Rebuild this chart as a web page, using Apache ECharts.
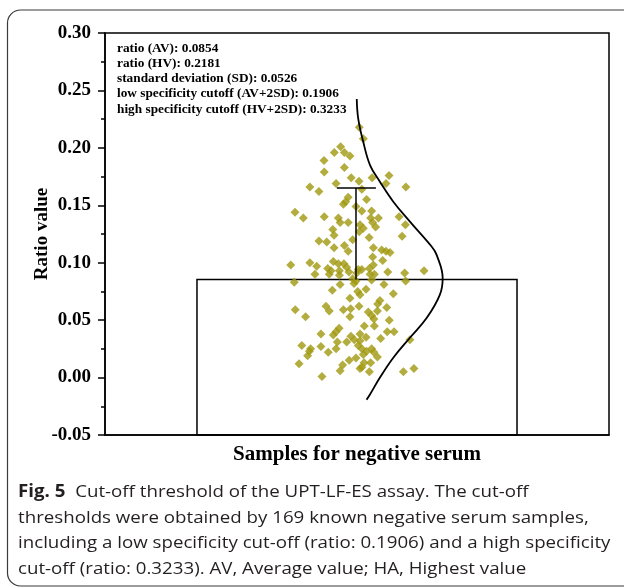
<!DOCTYPE html>
<html>
<head>
<meta charset="utf-8">
<script src="https://cdn.jsdelivr.net/npm/echarts@6/dist/echarts.min.js"></script>
<style>
  html, body { margin: 0; padding: 0; background: #fff; }
  #chart { width: 624px; height: 588px; }
</style>
</head>
<body>
<div id="chart"></div>
<script>
// category + summary values
const categories = ['']
const averageRatio = 0.0854
const errorTop = 0.165
const yTicks = { min: -0.05, max: 0.3, interval: 0.05 }

const statLines = [
  'ratio (AV): 0.0854',
  'ratio (HV): 0.2181',
  'standard deviation (SD): 0.0526',
  'low specificity cutoff (AV+2SD): 0.1906',
  'high specificity cutoff (HV+2SD): 0.3233',
]

// [jitter offset, ratio] for the negative serum samples
const samplePoints = [
  [0.009, 0.218], [0.025, 0.208], [-0.065, 0.201], [-0.090, 0.196], [-0.050, 0.196],
  [-0.028, 0.193], [-0.131, 0.189], [-0.050, 0.183], [-0.130, 0.179], [-0.023, 0.174],
  [0.008, 0.171], [0.060, 0.174], [0.127, 0.176], [-0.083, 0.169], [0.115, 0.169],
  [-0.187, 0.166], [0.194, 0.166], [-0.151, 0.162], [0.019, 0.164], [-0.035, 0.157],
  [0.038, 0.155], [-0.045, 0.153], [-0.054, 0.151], [-0.004, 0.149], [-0.246, 0.144],
  [-0.213, 0.139], [-0.130, 0.140], [-0.074, 0.139], [-0.067, 0.135], [-0.035, 0.135],
  [0.019, 0.145], [0.058, 0.145], [0.054, 0.139], [0.085, 0.139], [0.062, 0.135],
  [0.167, 0.140], [0.192, 0.133], [0.012, 0.133], [0.074, 0.131], [0.025, 0.130],
  [0.009, 0.127], [-0.096, 0.129], [-0.091, 0.124], [0.048, 0.122], [0.179, 0.123],
  [-0.151, 0.119], [-0.120, 0.118], [-0.017, 0.120], [-0.050, 0.115], [-0.091, 0.113],
  [0.065, 0.113], [0.098, 0.111], [0.115, 0.110], [0.131, 0.109], [-0.035, 0.110],
  [0.062, 0.105], [0.102, 0.102], [-0.263, 0.098], [-0.187, 0.100], [-0.160, 0.097],
  [-0.094, 0.101], [-0.074, 0.099], [-0.116, 0.095], [-0.103, 0.093], [-0.070, 0.093],
  [-0.052, 0.099], [-0.041, 0.096], [-0.032, 0.092], [0.005, 0.094], [0.019, 0.094],
  [-0.001, 0.091], [0.049, 0.095], [0.065, 0.098], [0.052, 0.090], [0.069, 0.090],
  [0.122, 0.092], [0.189, 0.091], [0.266, 0.093], [-0.167, 0.090], [-0.110, 0.090],
  [-0.070, 0.089], [-0.017, 0.086], [-0.004, 0.084], [-0.249, 0.083], [0.058, 0.085],
  [0.193, 0.084], [-0.012, 0.082], [-0.067, 0.081], [0.107, 0.081], [-0.098, 0.076],
  [0.003, 0.075], [0.036, 0.077], [0.012, 0.072], [0.144, 0.073], [0.091, 0.067],
  [-0.028, 0.069], [0.082, 0.064], [-0.123, 0.062], [0.118, 0.061], [-0.245, 0.059],
  [-0.110, 0.058], [-0.054, 0.059], [-0.025, 0.060], [0.008, 0.062], [0.045, 0.057],
  [0.081, 0.058], [-0.204, 0.053], [-0.028, 0.053], [0.058, 0.054], [0.128, 0.050],
  [0.067, 0.051], [0.029, 0.045], [0.069, 0.045], [0.120, 0.040], [0.147, 0.040],
  [-0.071, 0.043], [-0.083, 0.040], [-0.094, 0.037], [-0.143, 0.038], [-0.024, 0.036],
  [0.012, 0.038], [0.036, 0.035], [-0.011, 0.033], [-0.041, 0.031], [-0.078, 0.031],
  [0.012, 0.032], [0.094, 0.034], [0.005, 0.028], [-0.219, 0.028], [-0.184, 0.025],
  [-0.189, 0.023], [-0.196, 0.019], [-0.143, 0.027], [-0.114, 0.022], [-0.083, 0.025],
  [0.019, 0.025], [0.038, 0.023], [0.058, 0.025], [0.067, 0.022], [0.025, 0.020],
  [0.081, 0.018], [0.210, 0.033], [-0.230, 0.012], [-0.031, 0.015], [-0.057, 0.011],
  [-0.004, 0.017], [0.028, 0.013], [0.019, 0.009], [0.012, 0.008], [0.054, 0.013],
  [0.049, 0.005], [-0.067, 0.006], [-0.139, 0.001], [0.184, 0.005], [0.226, 0.008],
]

// distribution curve: [width, ratio]
const curvePoints = [
  [-0.001, 0.2426], [0.005, 0.2253], [0.025, 0.2051], [0.052, 0.1848], [0.091, 0.1705],
  [0.144, 0.1531], [0.210, 0.1358], [0.296, 0.1141], [0.316, 0.1068], [0.340, 0.0867],
  [0.329, 0.0722], [0.277, 0.0520], [0.210, 0.0347], [0.144, 0.0173], [0.091, 0.0],
  [0.052, -0.0145], [0.038, -0.0193],
]

const errorStem = [[-0.004, averageRatio], [-0.004, errorTop]]
const errorCap = [[-0.08, errorTop], [0.075, errorTop]]

const serif = 'Liberation Serif'
const chart = echarts.init(document.getElementById('chart'))

const option = {
  backgroundColor: '#fff',
  animation: false,
  grid: {
    left: 105,
    right: 15,
    top: 33,
    bottom: 153,
    show: true,
    borderColor: '#000',
    borderWidth: 1.5,
  },
  xAxis: [
    {
      type: 'category',
      data: categories,
      axisLine: { onZero: false, lineStyle: { color: '#000', width: 1.5 } },
      axisTick: { alignWithLabel: true, length: 8, lineStyle: { color: '#000', width: 1.5 } },
      axisLabel: { show: false },
      name: 'Samples for negative serum',
      nameLocation: 'middle',
      nameGap: 9,
      nameTextStyle: { fontFamily: serif, fontWeight: 'bold', fontSize: 21, color: '#000' },
    },
    { type: 'value', min: -1, max: 1, show: false },
  ],
  yAxis: {
    type: 'value',
    min: yTicks.min,
    max: yTicks.max,
    interval: yTicks.interval,
    splitLine: { show: false },
    axisLine: { show: true, onZero: false, lineStyle: { color: '#000', width: 1.5 } },
    axisTick: { show: true, length: 7, lineStyle: { color: '#000', width: 1.5 } },
    minorTick: { show: true, splitNumber: 2, length: 4, lineStyle: { color: '#000', width: 1.5 } },
    axisLabel: {
      formatter: (v) => v.toFixed(2),
      fontFamily: serif,
      fontWeight: 'bold',
      fontSize: 19,
      color: '#000',
      margin: 14,
      padding: [8, 0, 0, 0],
    },
    name: 'Ratio value',
    nameLocation: 'middle',
    nameRotate: 90,
    nameGap: 53,
    nameMoveOverlap: false,
    nameTextStyle: { fontFamily: serif, fontWeight: 'bold', fontSize: 19, color: '#000' },
  },
  graphic: [
    {
      type: 'rect',
      silent: true,
      shape: { x: 7.5, y: 10, width: 640, height: 576, r: 13 },
      style: { fill: 'none', stroke: '#3a3a3a', lineWidth: 1.2 },
    },
    {
      type: 'text',
      x: 117,
      y: 40.5,
      style: {
        text: statLines.join('\n'),
        fontFamily: serif,
        fontWeight: 'bold',
        fontSize: 13.3,
        lineHeight: 15.25,
        fill: '#000',
      },
    },
    {
      type: 'text',
      x: 18,
      y: 479,
      scaleX: 1.1,
      style: {
        text: '{b|Fig. 5}{n|  Cut-off threshold of the UPT-LF-ES assay. The cut-off}\n' +
          '{n|thresholds were obtained by 169 known negative serum samples,}\n' +
          '{n|including a low specificity cut-off (ratio: 0.1906) and a high specificity}\n' +
          '{n|cut-off (ratio: 0.3233). AV, Average value; HA, Highest value}',
        rich: {
          b: { fontFamily: 'Open Sans', fontWeight: 'bold', fontSize: 17, lineHeight: 25.8, fill: '#231f20' },
          n: { fontFamily: 'Open Sans', fontSize: 17, lineHeight: 25.8, fill: '#231f20' },
        },
      },
    },
  ],
  series: [
    {
      type: 'custom',
      xAxisIndex: 0,
      z: 1,
      data: [[0, averageRatio]],
      renderItem: (params, api) => {
        const top = api.coord([api.value(0), api.value(1)])
        const base = api.coord([api.value(0), yTicks.min])
        const w = api.size([1, 0])[0] * 0.635
        return {
          type: 'rect',
          shape: { x: top[0] - w / 2, y: top[1], width: w, height: base[1] - top[1] },
          style: { fill: 'none', stroke: '#000', lineWidth: 1.5 },
        }
      },
    },
    {
      type: 'scatter',
      xAxisIndex: 1,
      z: 2,
      symbol: 'diamond',
      symbolSize: 9,
      itemStyle: { color: '#a09810' },
      data: samplePoints,
    },
    {
      type: 'line',
      xAxisIndex: 1,
      z: 3,
      symbol: 'none',
      lineStyle: { color: '#000', width: 1.5 },
      data: errorStem,
    },
    {
      type: 'line',
      xAxisIndex: 1,
      z: 3,
      symbol: 'none',
      lineStyle: { color: '#000', width: 1.5 },
      data: errorCap,
    },
    {
      type: 'line',
      xAxisIndex: 1,
      z: 3,
      symbol: 'none',
      smooth: 0.4,
      lineStyle: { color: '#000', width: 1.8 },
      data: curvePoints,
    },
  ],
}

chart.setOption(option)
</script>
</body>
</html>
